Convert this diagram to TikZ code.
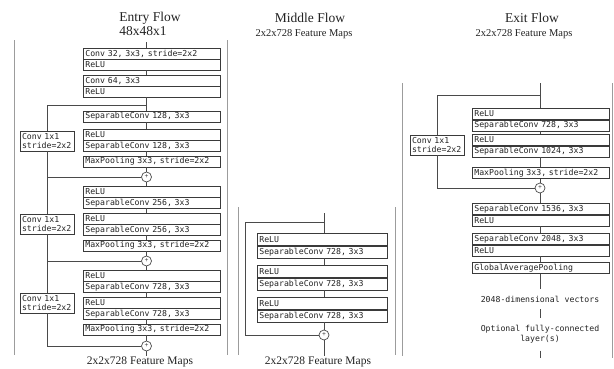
\documentclass[tikz,border=0pt]{standalone}
\usepackage{fontspec}
\setmainfont{Liberation Serif}
\newfontfamily\layerfont{DejaVu Sans Mono}
\usetikzlibrary{positioning}

\begin{document}
\begin{tikzpicture}[x=1pt, y=-1pt,
  layer/.style={draw=boxGray, line width=0.7pt, anchor=north west,
    font={\layerfont\fontsize{8.2}{9.5}\selectfont}, text=txtGray,
    text width=#1, align=left, inner xsep=2pt, inner ysep=0pt, minimum height=10.5pt},
  layer/.default=133pt,
  midlayer/.style={layer=126pt, minimum height=12pt},
  exitlayer/.style={layer=133pt, minimum height=11pt},
  shortcut/.style={draw=boxGray, line width=0.7pt,
    font={\layerfont\fontsize{8.2}{9.8}\selectfont}, text=txtGray,
    text width=50pt, align=left, inner xsep=2pt, inner ysep=2pt},
  addop/.style={draw=lineGray, circle, line width=0.7pt, minimum size=10pt, inner sep=0pt,
    font=\fontsize{7}{7}\selectfont},
  note/.style={font={\layerfont\fontsize{8.2}{9.8}\selectfont}, text=txtGray,
    align=center, inner xsep=0pt, inner ysep=7pt},
  link/.style={draw=lineGray, line width=0.8pt},
  panel/.style={draw=panelGray, line width=0.9pt},
  title/.style={font=\fontsize{13.5}{15}\selectfont, text=txtGray},
  subtitle/.style={font=\fontsize{10.5}{12}\selectfont, text=txtGray},
  footer/.style={font=\fontsize{11.5}{13}\selectfont, text=txtGray}]

% Colori
\definecolor{boxGray}{HTML}{3A3A3A}
\definecolor{lineGray}{HTML}{4A4A4A}
\definecolor{panelGray}{HTML}{9C9C9C}
\definecolor{txtGray}{HTML}{222222}

\useasboundingbox (0,0) rectangle (614,368);

% Titoli
\node[title] (entryT) at (150,18) {Entry Flow};
\node[title] (entryS) at (143,31) {48x48x1};
\node[title] (midT) at (310,18) {Middle Flow};
\node[subtitle] (midS) at (304,34) {2x2x728 Feature Maps};
\node[title] (exitT) at (532,18) {Exit Flow};
\node[subtitle] (exitS) at (524,34) {2x2x728 Feature Maps};

% Bordi dei pannelli
\draw[panel] (14,40) -- (14,355);
\draw[panel] (227,40) -- (227,355);
\draw[panel] (238,207) -- (238,355);
\draw[panel] (395,207) -- (395,355);
\draw[panel] (402,83) -- (402,356);
\draw[panel] (612.5,83) -- (612.5,358);

% Entry flow
\node[layer] (c32) at (83,48) {Conv 32, 3x3, stride=2x2};
\node[layer, below=0pt of c32] (c32r) {ReLU};
\node[layer] (c64) at (83,75) {Conv 64, 3x3};
\node[layer, below=0pt of c64] (c64r) {ReLU};
\node[layer] (s128a) at (83,111) {SeparableConv 128, 3x3};
\node[layer] (r128b) at (83,129) {ReLU};
\node[layer, below=0pt of r128b] (s128b) {SeparableConv 128, 3x3};
\node[layer] (mp1) at (83,156) {MaxPooling 3x3, stride=2x2};
\node[addop] (add1) at (146.5,177) {+};
\node[layer] (r256a) at (83,186) {ReLU};
\node[layer, below=0pt of r256a] (s256a) {SeparableConv 256, 3x3};
\node[layer] (r256b) at (83,213) {ReLU};
\node[layer, below=0pt of r256b] (s256b) {SeparableConv 256, 3x3};
\node[layer] (mp2) at (83,240) {MaxPooling 3x3, stride=2x2};
\node[addop] (add2) at (146.5,261) {+};
\node[layer] (r728a) at (83,270) {ReLU};
\node[layer, below=0pt of r728a] (s728a) {SeparableConv 728, 3x3};
\node[layer] (r728b) at (83,297) {ReLU};
\node[layer, below=0pt of r728b] (s728b) {SeparableConv 728, 3x3};
\node[layer] (mp3) at (83,324) {MaxPooling 3x3, stride=2x2};
\node[addop] (add3) at (146.5,346) {+};

\node[shortcut] (cv1) at (47,141) {Conv 1x1\\stride=2x2};
\node[shortcut] (cv2) at (47,224) {Conv 1x1\\stride=2x2};
\node[shortcut] (cv3) at (47,303) {Conv 1x1\\stride=2x2};

\coordinate (eIn) at (146.5,42);
\coordinate (eSplit) at (146.5,105);
\coordinate (eOut) at (146.5,356);

\draw[link] (eIn) -- (c32.north -| eIn);
\draw[link] (c32r.south -| eIn) -- (c64.north -| eIn);
\draw[link] (c64r.south -| eIn) -- (s128a.north -| eIn);
\draw[link] (s128a.south -| eIn) -- (r128b.north -| eIn);
\draw[link] (s128b.south -| eIn) -- (mp1.north -| eIn);
\draw[link] (mp1.south -| eIn) -- (add1);
\draw[link] (add1) -- (r256a.north -| eIn);
\draw[link] (s256a.south -| eIn) -- (r256b.north -| eIn);
\draw[link] (s256b.south -| eIn) -- (mp2.north -| eIn);
\draw[link] (mp2.south -| eIn) -- (add2);
\draw[link] (add2) -- (r728a.north -| eIn);
\draw[link] (s728a.south -| eIn) -- (r728b.north -| eIn);
\draw[link] (s728b.south -| eIn) -- (mp3.north -| eIn);
\draw[link] (mp3.south -| eIn) -- (add3);
\draw[link] (add3) -- (eOut);

% Residui entry flow
\draw[link] (eSplit) -| (cv1.north);
\draw[link] (cv1.south) |- (add1.west);
\draw[link] (add1.west) -| (cv2.north);
\draw[link] (cv2.south) |- (add2.west);
\draw[link] (add2.west) -| (cv3.north);
\draw[link] (cv3.south) |- (add3.west);

\node[footer] (entryF) at (140,362) {2x2x728 Feature Maps};

% Middle flow
\node[midlayer] (mrA) at (257,233) {ReLU};
\node[midlayer, below=0pt of mrA] (msA) {SeparableConv 728, 3x3};
\node[midlayer] (mrB) at (257,265) {ReLU};
\node[midlayer, below=0pt of mrB] (msB) {SeparableConv 728, 3x3};
\node[midlayer] (mrC) at (257,297) {ReLU};
\node[midlayer, below=0pt of mrC] (msC) {SeparableConv 728, 3x3};
\node[addop] (madd) at (324,335) {+};

\coordinate (mIn) at (324,213);
\coordinate (mSplit) at (324,222);
\coordinate (mLoop) at (245,222);
\coordinate (mOut) at (324,356);

\draw[link] (mIn) -- (mrA.north -| mIn);
\draw[link] (msA.south -| mIn) -- (mrB.north -| mIn);
\draw[link] (msB.south -| mIn) -- (mrC.north -| mIn);
\draw[link] (msC.south -| mIn) -- (madd);
\draw[link] (madd) -- (mOut);
\draw[link] (mSplit) -- (mLoop) |- (madd.west);

\node[footer] (midF) at (318,362) {2x2x728 Feature Maps};

% Exit flow
\node[exitlayer] (xr1) at (472,108) {ReLU};
\node[exitlayer, below=0pt of xr1] (xs1) {SeparableConv 728, 3x3};
\node[exitlayer] (xr2) at (472,134) {ReLU};
\node[exitlayer, below=0pt of xr2] (xs2) {SeparableConv 1024, 3x3};
\node[exitlayer] (xmp) at (472,167) {MaxPooling 3x3, stride=2x2};
\node[addop] (xadd) at (540,188) {+};
\node[exitlayer] (xs3) at (472,203) {SeparableConv 1536, 3x3};
\node[exitlayer, below=0pt of xs3] (xr3) {ReLU};
\node[exitlayer] (xs4) at (472,233) {SeparableConv 2048, 3x3};
\node[exitlayer, below=0pt of xs4] (xr4) {ReLU};
\node[exitlayer] (gap) at (472,262) {GlobalAveragePooling};
\node[note] (vec) at (540,299) {2048-dimensional vectors};
\node[note] (fc) at (540,334.5) {Optional fully-connected\\layer(s)};

\node[shortcut] (cvx) at (437,145) {Conv 1x1\\stride=2x2};

\coordinate (xIn) at (540,83);
\coordinate (xSplit) at (540,95);
\coordinate (xOut) at (540,358);

\draw[link] (xIn) -- (xr1.north -| xIn);
\draw[link] (xs1.south -| xIn) -- (xr2.north -| xIn);
\draw[link] (xs2.south -| xIn) -- (xmp.north -| xIn);
\draw[link] (xmp.south -| xIn) -- (xadd);
\draw[link] (xadd) -- (xs3.north -| xIn);
\draw[link] (xr3.south -| xIn) -- (xs4.north -| xIn);
\draw[link] (xr4.south -| xIn) -- (gap.north -| xIn);
\draw[link] (gap.south -| xIn) -- (vec);
\draw[link] (vec) -- (fc);
\draw[link] (fc) -- (xOut);

\draw[link] (xSplit) -| (cvx.north);
\draw[link] (cvx.south) |- (xadd.west);

\end{tikzpicture}
\end{document}
